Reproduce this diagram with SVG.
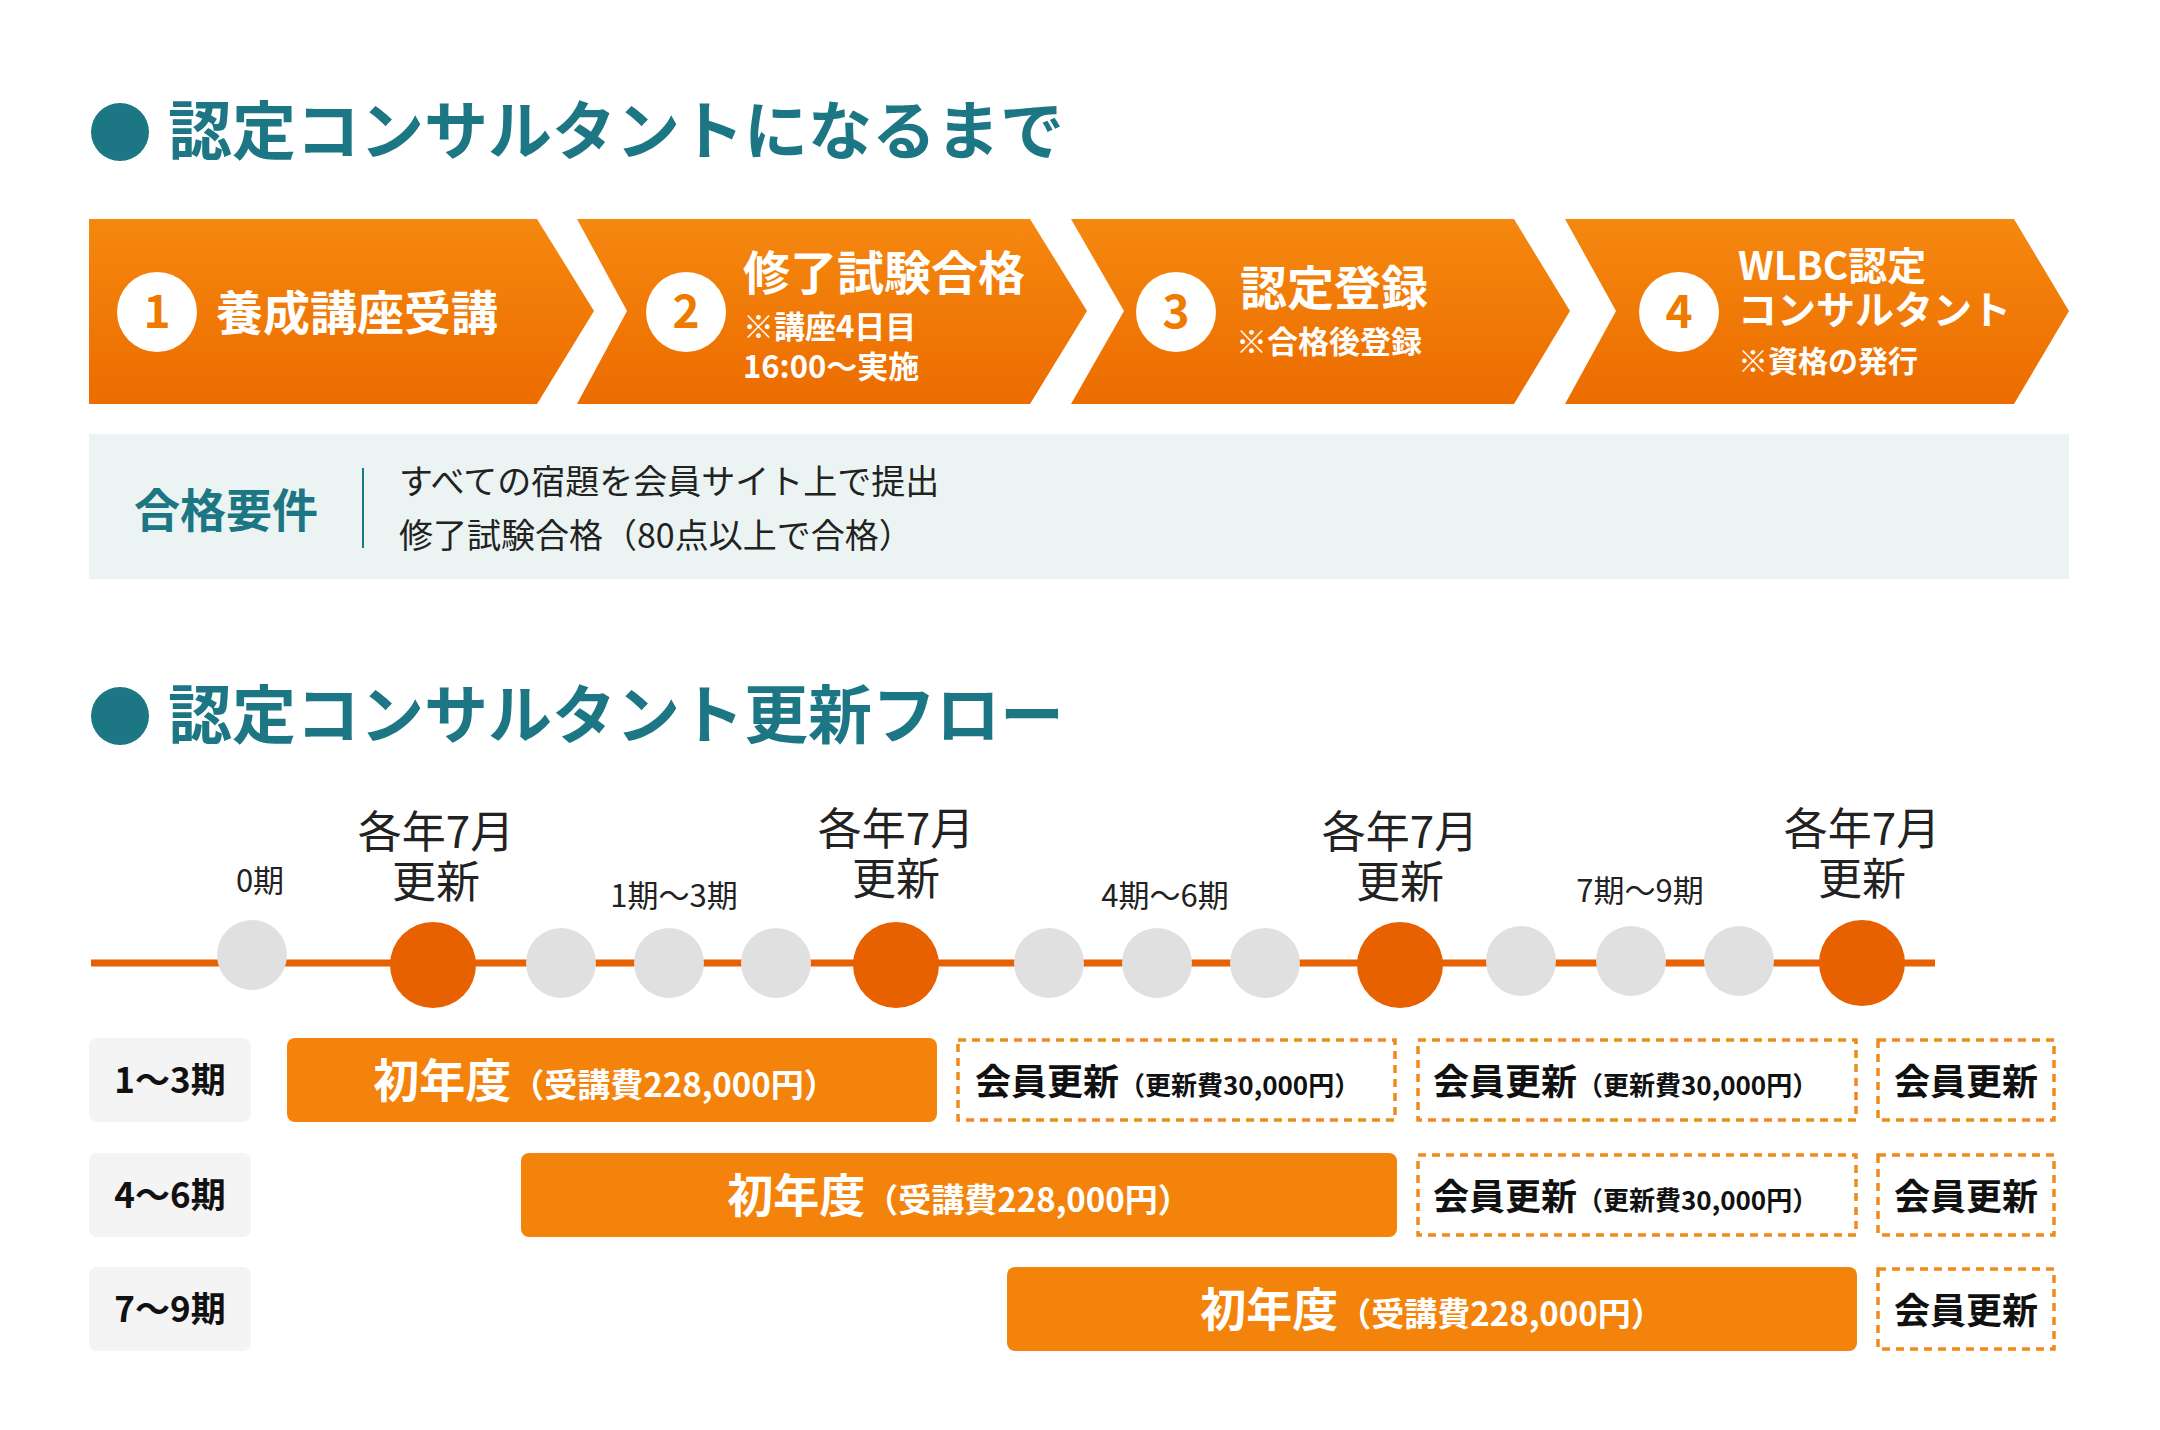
<svg xmlns="http://www.w3.org/2000/svg" width="2160" height="1430" viewBox="0 0 2160 1430">
<defs>
<linearGradient id="og" x1="0" y1="0" x2="0" y2="1"><stop offset="0" stop-color="#f5880f"/><stop offset="1" stop-color="#ec6c00"/></linearGradient>
<style>
text{font-family:"Noto Sans CJK JP","Noto Sans",sans-serif}
.ttl{font-size:64px;font-weight:700;fill:#1c7683}
.w{fill:#fff;font-weight:700}
.num{fill:#ef7a00;font-weight:700;font-size:46px;text-anchor:middle}
.lab{font-size:44px;fill:#222;text-anchor:middle}
.sm{font-size:31px;fill:#222;text-anchor:middle}
.rl{fill:#f4f4f4}
.rt{font-size:35px;font-weight:700;fill:#111;text-anchor:middle}
.bar{fill:#f4830c}
.dash{fill:none;stroke:#f08a1c;stroke-width:3.5;stroke-dasharray:8 6}
.bt{fill:#fff;font-weight:700;text-anchor:middle}
.kt{fill:#111;font-weight:700}
.g{fill:#e1e0e1}
.o{fill:#e86100}
</style>
</defs>
<rect width="2160" height="1430" fill="#fff"/>
<g id="title1"><circle cx="120" cy="132" r="29" fill="#1c7683"/><text x="168" y="154" class="ttl">認定コンサルタントになるまで</text></g>
<g id="step1"><polygon points="89,219 537,219 594,311 537,404 89,404" fill="url(#og)"/><circle cx="157" cy="312" r="40" fill="#fff"/><text x="157" y="328" class="num">1</text><text x="216" y="330" class="w" font-size="47">養成講座受講</text></g>
<g id="step2"><polygon points="577,219 1030,219 1087,311 1030,404 577,404 627,311" fill="url(#og)"/><circle cx="686" cy="312" r="40" fill="#fff"/><text x="686" y="328" class="num">2</text><text x="743" y="290" class="w" font-size="47">修了試験合格</text><text x="743" y="338" class="w" font-size="31" font-weight="500">※講座4日目</text><text x="743" y="378" class="w" font-size="31" font-weight="500">16:00〜実施</text></g>
<g id="step3"><polygon points="1071,219 1514,219 1570,311 1514,404 1071,404 1124,311" fill="url(#og)"/><circle cx="1176" cy="312" r="40" fill="#fff"/><text x="1176" y="328" class="num">3</text><text x="1240" y="305" class="w" font-size="47">認定登録</text><text x="1236" y="353" class="w" font-size="31" font-weight="500">※合格後登録</text></g>
<g id="step4"><polygon points="1565,219 2014,219 2069,311 2014,404 1565,404 1616,311" fill="url(#og)"/><circle cx="1679" cy="312" r="40" fill="#fff"/><text x="1679" y="328" class="num">4</text><text x="1738" y="280" class="w" font-size="39">WLBC認定</text><text x="1738" y="324" class="w" font-size="39">コンサルタント</text><text x="1738" y="372" class="w" font-size="30" font-weight="500">※資格の発行</text></g>
<g id="req"><rect x="89" y="434" width="1980" height="145" fill="#ebf4f3"/><text x="134" y="527" font-size="46" font-weight="700" fill="#1c7683">合格要件</text><line x1="363" y1="468" x2="363" y2="548" stroke="#1c7683" stroke-width="2"/><text x="399" y="494" font-size="34" fill="#222">すべての宿題を会員サイト上で提出</text><text x="399" y="548" font-size="34" fill="#222">修了試験合格（80点以上で合格）</text></g>
<g id="title2"><circle cx="120" cy="716" r="29" fill="#1c7683"/><text x="168" y="738" class="ttl">認定コンサルタント更新フロー</text></g>
<g id="connectors"><line x1="91" y1="963" x2="1935" y2="963" stroke="#e86100" stroke-width="7"/></g>
<g id="timeline">
<circle class="g" cx="252" cy="955" r="35"/><circle class="o" cx="433" cy="965" r="43"/>
<circle class="g" cx="561" cy="963" r="35"/><circle class="g" cx="669" cy="963" r="35"/><circle class="g" cx="776" cy="963" r="35"/>
<circle class="o" cx="896" cy="965" r="43"/>
<circle class="g" cx="1049" cy="963" r="35"/><circle class="g" cx="1157" cy="963" r="35"/><circle class="g" cx="1265" cy="963" r="35"/>
<circle class="o" cx="1400" cy="965" r="43"/>
<circle class="g" cx="1521" cy="961" r="35"/><circle class="g" cx="1631" cy="961" r="35"/><circle class="g" cx="1739" cy="961" r="35"/>
<circle class="o" cx="1862" cy="963" r="43"/>
<text x="260" y="892" class="sm">0期</text>
<text x="436" y="848" class="lab">各年7月</text><text x="436" y="898" class="lab">更新</text>
<text x="674" y="907" class="sm">1期〜3期</text>
<text x="896" y="845" class="lab">各年7月</text><text x="896" y="895" class="lab">更新</text>
<text x="1165" y="907" class="sm">4期〜6期</text>
<text x="1400" y="848" class="lab">各年7月</text><text x="1400" y="898" class="lab">更新</text>
<text x="1640" y="902" class="sm">7期〜9期</text>
<text x="1862" y="845" class="lab">各年7月</text><text x="1862" y="895" class="lab">更新</text>
</g>
<g id="row1"><rect class="rl" x="89" y="1038" width="162" height="84" rx="8"/><text x="170" y="1093" class="rt">1〜3期</text>
<rect class="bar" x="287" y="1038" width="650" height="84" rx="8"/><text x="605" y="1097" class="bt"><tspan font-size="46">初年度</tspan><tspan font-size="33">（受講費228,000円）</tspan></text>
<rect class="dash" x="958" y="1040" width="437" height="80"/><text x="975" y="1095" class="kt"><tspan font-size="36">会員更新</tspan><tspan font-size="26">（更新費30,000円）</tspan></text>
<rect class="dash" x="1418" y="1040" width="438" height="80"/><text x="1433" y="1095" class="kt"><tspan font-size="36">会員更新</tspan><tspan font-size="26">（更新費30,000円）</tspan></text>
<rect class="dash" x="1878" y="1040" width="176" height="80"/><text x="1966" y="1095" class="kt" font-size="36" text-anchor="middle">会員更新</text></g>
<g id="row2"><rect class="rl" x="89" y="1153" width="162" height="84" rx="8"/><text x="170" y="1208" class="rt">4〜6期</text>
<rect class="bar" x="521" y="1153" width="876" height="84" rx="8"/><text x="959" y="1212" class="bt"><tspan font-size="46">初年度</tspan><tspan font-size="33">（受講費228,000円）</tspan></text>
<rect class="dash" x="1418" y="1155" width="438" height="80"/><text x="1433" y="1210" class="kt"><tspan font-size="36">会員更新</tspan><tspan font-size="26">（更新費30,000円）</tspan></text>
<rect class="dash" x="1878" y="1155" width="176" height="80"/><text x="1966" y="1210" class="kt" font-size="36" text-anchor="middle">会員更新</text></g>
<g id="row3"><rect class="rl" x="89" y="1267" width="162" height="84" rx="8"/><text x="170" y="1322" class="rt">7〜9期</text>
<rect class="bar" x="1007" y="1267" width="850" height="84" rx="8"/><text x="1432" y="1326" class="bt"><tspan font-size="46">初年度</tspan><tspan font-size="33">（受講費228,000円）</tspan></text>
<rect class="dash" x="1878" y="1269" width="176" height="80"/><text x="1966" y="1324" class="kt" font-size="36" text-anchor="middle">会員更新</text></g>
</svg>
